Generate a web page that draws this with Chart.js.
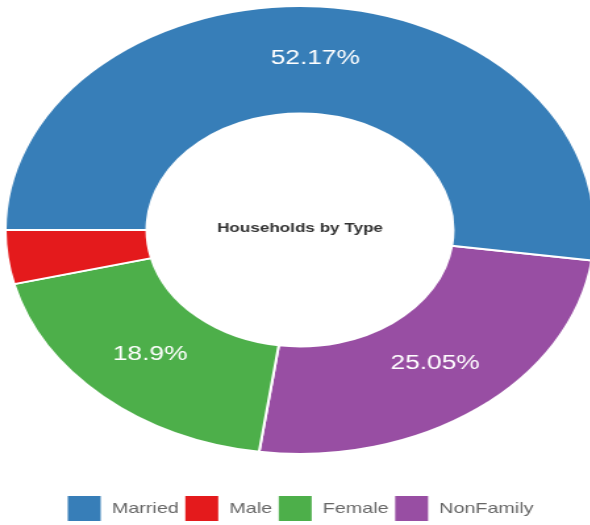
<!DOCTYPE html>
<html>
<head>
<meta charset="utf-8">
<script src="https://cdn.jsdelivr.net/npm/chart.js@4"></script>
<style>
    html, body { margin: 0; padding: 0; overflow: hidden; background: #fff; }
    body { width: 590px; height: 525px; position: relative; }
    #donut { position: absolute; left: 4px; top: -31px; }
</style>
</head>
<body>
<!-- drawn at 450 wide and stretched sideways, like the reference -->
<canvas id="donut" width="450" height="563" style="width:592px;height:563px"></canvas>
<script>
// households by type, share in percent
const categories = ['Married', 'Male', 'Female', 'NonFamily'];
const shares = [52.17, 3.88, 18.9, 25.05];
const colors = ['#377eb8', '#e41a1c', '#4daf4a', '#984ea3'];
const centerTitle = 'Households by Type';

Chart.defaults.font.family = '"Liberation Sans", Arial, sans-serif';

// slices run the other way round in the reference, so feed them reversed
// and flip the legend back
const rev = (arr) => arr.slice().reverse();

const sliceLabels = {
    id: 'sliceLabels',
    afterDatasetsDraw(chart) {
        const ctx = chart.ctx;
        const meta = chart.getDatasetMeta(0);
        const values = chart.data.datasets[0].data;
        ctx.save();
        ctx.textAlign = 'center';
        ctx.textBaseline = 'middle';
        ctx.font = '20px "Liberation Sans", Arial, sans-serif';
        ctx.fillStyle = '#fff';
        meta.data.forEach((arc, i) => {
            if (values[i] < 5) return; // too thin for a label
            const p = arc.tooltipPosition();
            ctx.fillText(values[i] + '%', p.x, p.y - 2);
        });
        const c = meta.data[0];
        ctx.font = 'bold 13px "Liberation Sans", Arial, sans-serif';
        ctx.fillStyle = '#333';
        ctx.fillText(centerTitle, c.x, c.y - 2);
        ctx.restore();
    }
};

const Donut = document.getElementById('donut').getContext('2d');
const myDonut = new Chart(Donut, {
    type: 'doughnut',
    data: {
        labels: rev(categories),
        datasets: [
            {
                data: rev(shares),
                backgroundColor: rev(colors),
                borderColor: '#fff',
                borderWidth: 2,
            },
        ],
    },
    options: {
        responsive: false,
        animation: false,
        cutout: '52%',
        rotation: 97.8,
        plugins: {
            legend: {
                position: 'bottom',
                reverse: true,
                labels: {
                    boxWidth: 27,
                    boxHeight: 27,
                    padding: 4,
                    color: '#666',
                    font: { size: 15 },
                },
            },
            tooltip: { enabled: false },
        },
    },
    plugins: [sliceLabels],
});
</script>
</body>
</html>
